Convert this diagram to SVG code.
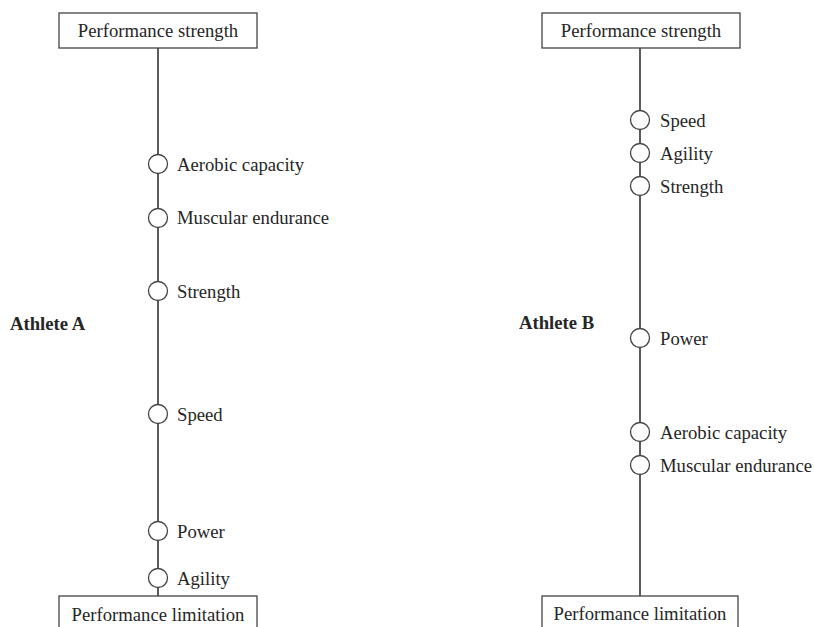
<svg xmlns="http://www.w3.org/2000/svg" width="814" height="627" viewBox="0 0 814 627">
<style>
text{font-family:"Liberation Serif","Times New Roman",serif;font-size:18.7px;fill:#262626}
.box{fill:#fff;stroke:#444;stroke-width:1.3}
.ln{stroke:#333;stroke-width:1.6;fill:none}
.c{fill:#fff;stroke:#444;stroke-width:1.3}
.b{font-weight:bold}
.m{text-anchor:middle}
</style>
<rect width="814" height="627" fill="#fff"/>
<g id="connectors">
<line class="ln" x1="158" y1="48" x2="158" y2="596"/>
<line class="ln" x1="640" y1="48" x2="640" y2="596"/>
</g>
<g id="a-top"><rect class="box" x="59" y="13" width="198" height="35"/><text class="m" x="158" y="37">Performance strength</text></g>
<g id="a-bottom"><rect class="box" x="59" y="596" width="198" height="40"/><text class="m" x="158" y="621">Performance limitation</text></g>
<g id="a-label"><text class="b" x="10" y="330">Athlete A</text></g>
<g id="a-aerobic"><circle class="c" cx="158" cy="164" r="9.5"/><text x="177" y="171">Aerobic capacity</text></g>
<g id="a-muscular"><circle class="c" cx="158" cy="218" r="9.5"/><text x="177" y="224">Muscular endurance</text></g>
<g id="a-strength"><circle class="c" cx="158" cy="291" r="9.5"/><text x="177" y="298">Strength</text></g>
<g id="a-speed"><circle class="c" cx="158" cy="414" r="9.5"/><text x="177" y="421">Speed</text></g>
<g id="a-power"><circle class="c" cx="158" cy="531" r="9.5"/><text x="177" y="538">Power</text></g>
<g id="a-agility"><circle class="c" cx="158" cy="578" r="9.5"/><text x="177" y="585">Agility</text></g>
<g id="b-top"><rect class="box" x="542" y="13" width="198" height="35"/><text class="m" x="641" y="37">Performance strength</text></g>
<g id="b-bottom"><rect class="box" x="542" y="596" width="196" height="40"/><text class="m" x="640" y="620">Performance limitation</text></g>
<g id="b-label"><text class="b" x="519" y="329">Athlete B</text></g>
<g id="b-speed"><circle class="c" cx="640" cy="120" r="9.5"/><text x="660" y="127">Speed</text></g>
<g id="b-agility"><circle class="c" cx="640" cy="153" r="9.5"/><text x="660" y="160">Agility</text></g>
<g id="b-strength"><circle class="c" cx="640" cy="186" r="9.5"/><text x="660" y="193">Strength</text></g>
<g id="b-power"><circle class="c" cx="640" cy="338" r="9.5"/><text x="660" y="345">Power</text></g>
<g id="b-aerobic"><circle class="c" cx="640" cy="432" r="9.5"/><text x="660" y="439">Aerobic capacity</text></g>
<g id="b-muscular"><circle class="c" cx="640" cy="465" r="9.5"/><text x="660" y="472">Muscular endurance</text></g>
</svg>
